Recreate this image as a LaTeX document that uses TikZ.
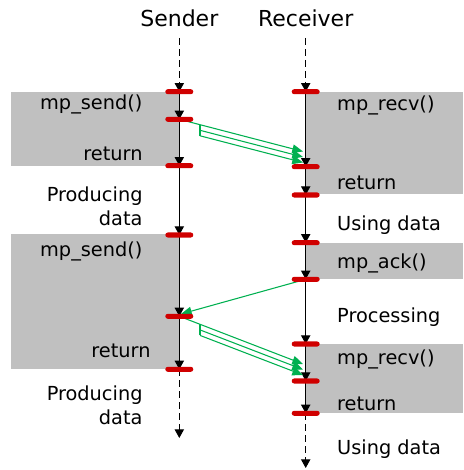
\documentclass[tikz,border=0pt]{standalone}
\usepackage{fontspec}
\setmainfont{DejaVu Sans}
\usetikzlibrary{arrows.meta}
\definecolor{callgray}{RGB}{192,192,192}
\definecolor{tickred}{RGB}{208,0,0}
\definecolor{msggreen}{RGB}{0,176,80}
\tikzset{every picture/.style={line width=0.75pt}}
\tikzset{
  flow/.style={draw=black,-{Triangle[length=6.5pt,width=7pt]}},
  idle/.style={flow,dash pattern=on 5.25pt off 3pt},
  msg/.style={draw=msggreen,line width=0.8pt},
  msgtip/.style={msg,-{Triangle[length=8pt,width=6.5pt]}},
  tickbar/.style={fill=tickred,rounded corners=1.9pt,minimum width=21pt,minimum height=3.8pt,inner sep=0pt},
  lbl/.style={inner sep=0pt,font=\fontsize{14.5}{17.5}\selectfont},
  hdr/.style={inner sep=0pt,font=\fontsize{16.5}{20}\selectfont}
}

\begin{document}
\begin{tikzpicture}[x=0.75pt,y=0.75pt,yscale=-1,xscale=1]
\useasboundingbox (0,0) rectangle (463,470);
% call regions
\fill [callgray] (11,91.7) rectangle (179.3,165.7);
\fill [callgray] (11,234) rectangle (179.3,369.3);
\fill [callgray] (305.7,91.7) rectangle (463,194);
\fill [callgray] (305.7,242.7) rectangle (463,279.3);
\fill [callgray] (305.7,344) rectangle (463,413.3);

% headers
\node [hdr,anchor=base] (sender) at (179.3,26.7) {Sender};
\node [hdr,anchor=base] (receiver) at (305.7,26.7) {Receiver};

% event points on the sender
\coordinate (s0) at (179.3,38);
\coordinate (s1) at (179.3,91.7);
\coordinate (s2) at (179.3,119.3);
\coordinate (s3) at (179.3,165.7);
\coordinate (s4) at (179.3,235);
\coordinate (s5) at (179.3,316.3);
\coordinate (s6) at (179.3,369.3);
\coordinate (s7) at (179.3,438);
% event points on the receiver
\coordinate (r0) at (305.7,38);
\coordinate (r1) at (305.7,91.7);
\coordinate (r2) at (305.7,166.7);
\coordinate (r3) at (305.7,195);
\coordinate (r4) at (305.7,242.7);
\coordinate (r5) at (305.7,279.3);
\coordinate (r6) at (305.7,344);
\coordinate (r7) at (305.7,381);
\coordinate (r8) at (305.7,413.3);
\coordinate (r9) at (305.7,468);

% time lines
\draw [idle] (s0) -- (s1);
\draw [flow] (s1) -- (s2);
\draw [flow] (s2) -- (s3);
\draw [flow] (s3) -- (s4);
\draw [flow] (s4) -- (s5);
\draw [flow] (s5) -- (s6);
\draw [idle] (s6) -- (s7);
\draw [idle] (r0) -- (r1);
\draw [flow] (r1) -- (r2);
\draw [flow] (r2) -- (r3);
\draw [flow] (r3) -- (r4);
\draw [flow] (r4) -- (r5);
\draw [flow] (r5) -- (r6);
\draw [flow] (r6) -- (r7);
\draw [flow] (r7) -- (r8);
\draw [idle] (r8) -- (r9);

% first burst of messages
\coordinate (m1a) at (303,151.5);
\coordinate (m1b) at (303,157);
\coordinate (m1c) at (303,162.5);
\coordinate (k1a) at (200,124.8);
\coordinate (k1b) at (200,130.3);
\coordinate (k1c) at (200,135.8);
\draw [msgtip] (s2) -- (m1a);
\draw [msg] (k1a) -- (k1c);
\draw [msgtip] (k1b) -- (m1b);
\draw [msgtip] (k1c) -- (m1c);

% acknowledge
\coordinate (a1) at (181,314);
\draw [msgtip] (r5) -- (a1);

% second burst of messages
\coordinate (m2a) at (303,364);
\coordinate (m2b) at (303,369.5);
\coordinate (m2c) at (303,375);
\coordinate (k2a) at (200,324.4);
\coordinate (k2b) at (200,329.9);
\coordinate (k2c) at (200,335.4);
\draw [msgtip] (s5) -- (m2a);
\draw [msg] (k2a) -- (k2c);
\draw [msgtip] (k2b) -- (m2b);
\draw [msgtip] (k2c) -- (m2c);

% markers
\foreach \p in {s1,s2,s3,s4,s5,s6,r1,r2,r3,r4,r5,r6,r7,r8}
  \node [tickbar] (\p bar) at (\p) {};

% sender side
\node [lbl,anchor=base east] (sendA) at (143,110) {mp\_send()};
\node [lbl,anchor=base east] (retA) at (143,161) {return};
\node [lbl,anchor=base east,align=right] (prodA) at (143,225) {Producing\\data};
\node [lbl,anchor=base east] (sendB) at (143,256.7) {mp\_send()};
\node [lbl,anchor=base east] (retB) at (151,357.7) {return};
\node [lbl,anchor=base east,align=right] (prodB) at (143,424) {Producing\\data};
% receiver side
\node [lbl,anchor=base west] (recvA) at (336.7,110.7) {mp\_recv()};
\node [lbl,anchor=base west] (retC) at (336.7,189.3) {return};
\node [lbl,anchor=base west] (useA) at (336.7,230) {Using data};
\node [lbl,anchor=base west] (ack) at (336.7,268.3) {mp\_ack()};
\node [lbl,anchor=base west] (proc) at (336.7,322.7) {Processing};
\node [lbl,anchor=base west] (recvB) at (336.7,364) {mp\_recv()};
\node [lbl,anchor=base west] (retD) at (336.7,410) {return};
\node [lbl,anchor=base west] (useB) at (336.7,454.3) {Using data};
\end{tikzpicture}
\end{document}
